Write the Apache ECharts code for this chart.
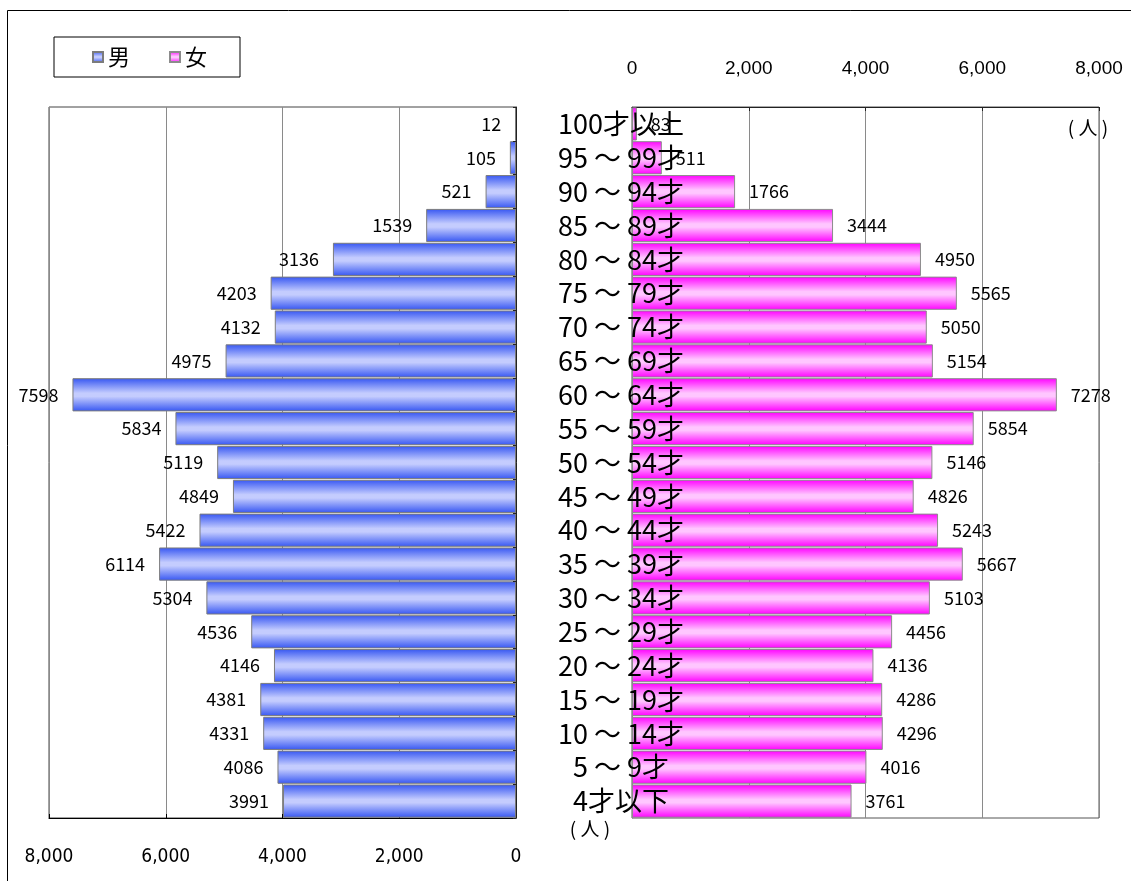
<!DOCTYPE html>
<html>
<head>
<meta charset="utf-8">
<title>年齢別人口</title>
<script src="https://cdn.jsdelivr.net/npm/echarts@6/dist/echarts.min.js"></script>
<style>
  html, body { margin: 0; padding: 0; background: #fff; }
  #chart { width: 1131px; height: 881px; }
</style>
</head>
<body>
<div id="chart"></div>
<script>
// 年齢階級（上から高齢順）
const ageGroups = [
  '100才以上', '95 ～ 99才', '90 ～ 94才', '85 ～ 89才', '80 ～ 84才',
  '75 ～ 79才', '70 ～ 74才', '65 ～ 69才', '60 ～ 64才', '55 ～ 59才',
  '50 ～ 54才', '45 ～ 49才', '40 ～ 44才', '35 ～ 39才', '30 ～ 34才',
  '25 ～ 29才', '20 ～ 24才', '15 ～ 19才', '10 ～ 14才', '5 ～ 9才', '4才以下'
];
// 男性人口
const male = [12, 105, 521, 1539, 3136, 4203, 4132, 4975, 7598, 5834, 5119,
              4849, 5422, 6114, 5304, 4536, 4146, 4381, 4331, 4086, 3991];
// 女性人口
const female = [83, 511, 1766, 3444, 4950, 5565, 5050, 5154, 7278, 5854, 5146,
                4826, 5243, 5667, 5103, 4456, 4136, 4286, 4296, 4016, 3761];
// 人数軸の目盛
const axisTicks = [0, 2000, 4000, 6000, 8000];

const tickMin = axisTicks[0];
const tickMax = axisTicks[axisTicks.length - 1];
const tickStep = axisTicks[1] - axisTicks[0];

const jp = '"Noto Sans CJK JP", "Noto Sans", sans-serif';
const fmt = v => Number(v).toLocaleString('en-US');

function band(edge, mid) {
  return {
    type: 'linear', x: 0, y: 0, x2: 0, y2: 1,
    colorStops: [
      { offset: 0, color: edge },
      { offset: 0.45, color: mid },
      { offset: 0.55, color: mid },
      { offset: 1, color: edge }
    ]
  };
}
const blueFill = band('#3656f2', '#c4ccfe');
const pinkFill = band('#ff00ff', '#ffc6ff');

const chart = echarts.init(document.getElementById('chart'));

chart.setOption({
  animation: false,
  backgroundColor: '#fff',
  legend: {
    data: ['男', '女'],
    left: 54,
    top: 37,
    orient: 'horizontal',
    icon: 'rect',
    itemWidth: 10,
    itemHeight: 10,
    itemGap: 39,
    padding: [9, 33, 9, 38],
    borderColor: '#000',
    borderWidth: 1,
    textStyle: { fontFamily: jp, fontSize: 22, color: '#000' }
  },
  grid: [
    { left: 49, top: 107, width: 467, height: 711, show: true,
      borderColor: '#444', borderWidth: 1, containLabel: false },
    { left: 632, top: 107, width: 467, height: 711, show: true,
      borderColor: '#555', borderWidth: 1, containLabel: false }
  ],
  xAxis: [
    {
      gridIndex: 0, type: 'value', inverse: true, position: 'bottom',
      min: tickMin, max: tickMax, interval: tickStep,
      axisLine: { show: true, lineStyle: { color: '#000', width: 1 } },
      axisTick: { show: true, inside: true, length: 4, lineStyle: { color: '#000' } },
      splitLine: { show: true, lineStyle: { color: '#8a8a8a', width: 1 } },
      axisLabel: { margin: 30, formatter: fmt, fontFamily: '"DejaVu Sans Condensed", "Liberation Sans", sans-serif',
                   fontSize: 19, color: '#000' }
    },
    {
      gridIndex: 1, type: 'value', position: 'top',
      min: tickMin, max: tickMax, interval: tickStep,
      axisLine: { show: true, lineStyle: { color: '#222', width: 1 } },
      axisTick: { show: true, inside: true, length: 4, lineStyle: { color: '#222' } },
      splitLine: { show: true, lineStyle: { color: '#8a8a8a', width: 1 } },
      axisLabel: { margin: 29, formatter: fmt, fontFamily: '"Liberation Sans", Arial, sans-serif',
                   fontSize: 19, color: '#000' }
    }
  ],
  yAxis: [
    {
      gridIndex: 0, type: 'category', inverse: true, position: 'right',
      data: ageGroups, z: 10,
      axisLine: { show: true, lineStyle: { color: '#222', width: 1 } },
      axisTick: { show: true, inside: true, length: 3, lineStyle: { color: '#222' } },
      axisLabel: { show: true, interval: 0, margin: 105, align: 'center', fontFamily: jp,
                   fontSize: 27, color: '#000' }
    },
    {
      gridIndex: 1, type: 'category', inverse: true, position: 'left',
      data: ageGroups,
      axisLine: { show: true, lineStyle: { color: '#888', width: 1 } },
      axisTick: { show: false },
      axisLabel: { show: false }
    }
  ],
  series: [
    {
      name: '男', type: 'bar', xAxisIndex: 0, yAxisIndex: 0,
      data: male, barCategoryGap: '2%',
      itemStyle: { color: blueFill, borderColor: '#7c7c7c', borderWidth: 1 },
      label: { show: true, position: 'left', distance: 14, fontFamily: jp,
               fontSize: 18, color: '#000' }
    },
    {
      name: '女', type: 'bar', xAxisIndex: 1, yAxisIndex: 1,
      data: female, barCategoryGap: '2%',
      itemStyle: { color: pinkFill, borderColor: '#8c8c8c', borderWidth: 1 },
      label: { show: true, position: 'right', distance: 14, fontFamily: jp,
               fontSize: 18, color: '#000' }
    }
  ],
  graphic: [
    { type: 'line', shape: { x1: 7.5, y1: 10.5, x2: 1131, y2: 10.5 },
      style: { stroke: '#000', lineWidth: 1 }, silent: true },
    { type: 'line', shape: { x1: 7.5, y1: 10.5, x2: 7.5, y2: 881 },
      style: { stroke: '#000', lineWidth: 1 }, silent: true },
    { type: 'text', x: 1088, y: 128, z: 20,
      style: { text: '( 人 )', font: '19px ' + jp, fill: '#000',
               textAlign: 'center', textVerticalAlign: 'middle' } },
    { type: 'text', x: 590, y: 829, z: 20,
      style: { text: '( 人 )', font: '19px ' + jp, fill: '#000',
               textAlign: 'center', textVerticalAlign: 'middle' } }
  ]
});
</script>
</body>
</html>
